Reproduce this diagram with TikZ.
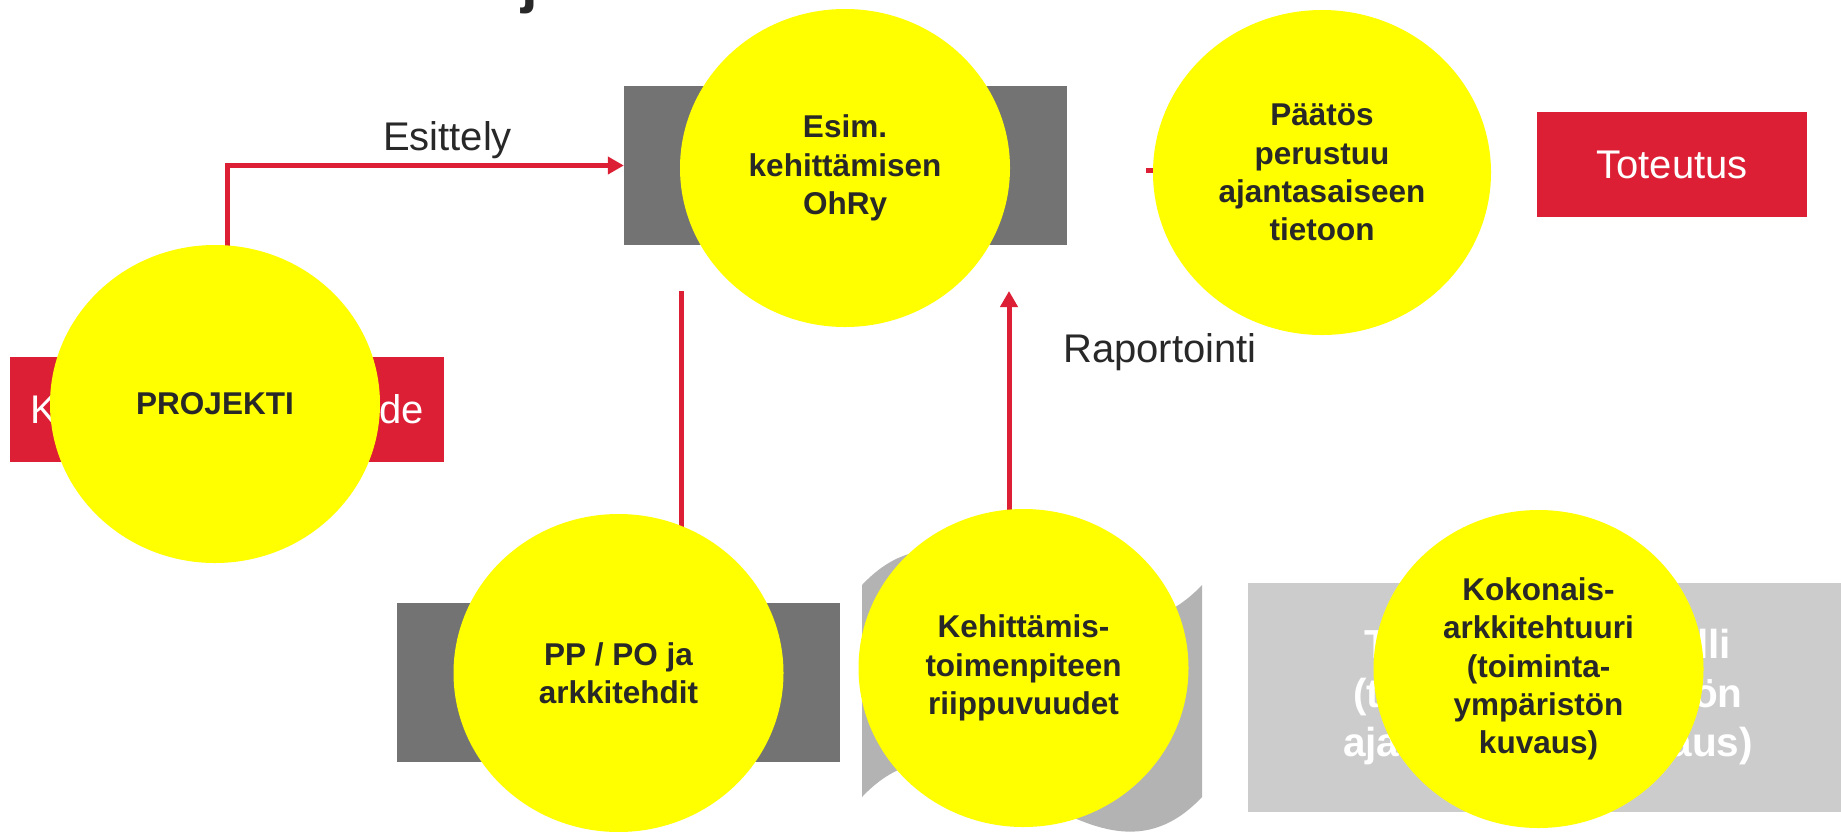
\documentclass[tikz,border=0pt]{standalone}
\usepackage{fontspec}
\setmainfont{Liberation Sans}
\usetikzlibrary{shapes.geometric,arrows.meta}
\definecolor{yel}{RGB}{255,255,0}
\definecolor{redc}{RGB}{220,31,52}
\definecolor{grayd}{RGB}{115,115,115}
\definecolor{grayw}{RGB}{179,179,179}
\definecolor{grayl}{RGB}{204,204,204}
\definecolor{txt}{RGB}{40,40,40}
\pgfdeclarelayer{bg}
\pgfdeclarelayer{mid}
\pgfsetlayers{bg,mid,main}
\begin{document}
\begin{tikzpicture}[x=1pt,y=-1pt,
  ybl/.style={ellipse, fill=yel, minimum width=330pt, minimum height=318pt, inner sep=0pt,
    align=center, text=txt, font=\fontsize{31.5}{38.3}\selectfont\bfseries},
  darkbox/.style={rectangle, fill=grayd, minimum width=443pt, minimum height=159pt, inner sep=0pt},
  redbox/.style={rectangle, fill=redc, text=white, minimum height=105pt, inner sep=0pt,
    font=\fontsize{40}{48}\selectfont},
  lbl/.style={text=txt, font=\fontsize{40}{48}\selectfont, inner sep=0pt, anchor=base},
  conn/.style={draw=redc, line width=5pt},
  arr/.style={conn, -{Triangle[length=16pt, width=17pt]}}]
\useasboundingbox (0,0) rectangle (1841,831);
\begin{pgfonlayer}{bg}
  \fill[white] (0,0) rectangle (1841,831);
  \node[font=\fontsize{60}{72}\selectfont\bfseries, text=txt, anchor=base, inner sep=0pt] (title) at (530,1) {j};
  \node[redbox, minimum width=434pt] (lahde) at (227,409.5) {Kehittämisidean lähde};
  \node[darkbox] (ohry) at (845.5,165.5) {};
  \node[redbox, minimum width=270pt] (toteutus) at (1672,164.5) {Toteutus};
  \node[darkbox] (ppbox) at (618.5,682.5) {};
  \fill[grayw] (862,585) .. controls (975,465) and (1089,705) .. (1202,585)
    -- (1202,797) .. controls (1089,917) and (975,677) .. (862,797) -- cycle;
  \node[rectangle, fill=grayl, minimum width=600pt, minimum height=229pt, inner sep=0pt,
    text=white, align=center, font=\fontsize{40.5}{49}\selectfont\bfseries] (malli) at (1548,697.5)
    {Tiedonhallintamalli\\(toimintaympäristön\\ajantasainen kuvaus)};
\end{pgfonlayer}
\node[ybl] (proj) at (215,404) {PROJEKTI};
\node[ybl] (esim) at (845,168) {Esim.\\kehittämisen\\OhRy};
\node[ybl, minimum width=338pt, minimum height=325pt] (paatos) at (1322,172.5) {Päätös\\perustuu\\ajantasaiseen\\tietoon};
\node[ybl] (pp) at (618.5,673) {PP / PO ja\\arkkitehdit};
\node[ybl] (keh) at (1023.5,668) {Kehittämis-\\toimenpiteen\\riippuvuudet};
\node[ybl] (koko) at (1538.5,669) {Kokonais-\\arkkitehtuuri\\(toiminta-\\ympäristön\\kuvaus)};
\node[lbl] (esittely) at (447.5,150) {Esittely};
\node[lbl] (raport) at (1160,362) {Raportointi};
\coordinate (a1) at (681,291);
\coordinate (a2) at (1009,291);
\coordinate (a3) at (1146,170);
\begin{pgfonlayer}{mid}
  \draw[arr] ([xshift=12pt]proj.center) |- (ohry.west);
  \draw[conn] (a1) -- (a1 |- pp.center);
  \draw[arr] (a2 |- keh.center) -- (a2);
  \draw[conn] (a3) -- (a3 -| paatos.center);
\end{pgfonlayer}
\end{tikzpicture}
\end{document}
